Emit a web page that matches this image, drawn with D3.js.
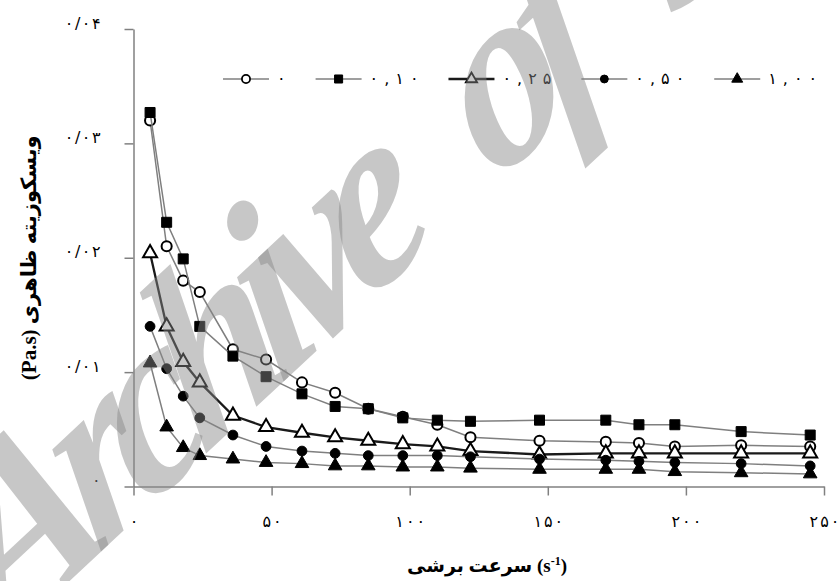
<!DOCTYPE html>
<html lang="fa">
<head>
<meta charset="utf-8">
<script src="https://d3js.org/d3.v7.min.js"></script>
<style>
  body { margin: 0; background: #fff; }
  svg { display: block; }
</style>
</head>
<body>
<script>
// shear rate (1/s) and apparent viscosity (Pa.s) for each concentration
const shearRate = [6, 12, 18, 24, 36, 48, 61, 73, 85, 97.5, 110, 122, 147, 171, 183, 196, 220, 245];
const seriesNames = ["۰", "۰,۱۰", "۰,۲۵", "۰,۵۰", "۱,۰۰"];
const visc0   = [0.0320, 0.0210, 0.0180, 0.0170, 0.0120, 0.0111, 0.0091, 0.0082, 0.0068, 0.0061, 0.0054, 0.0043, 0.0040, 0.0039, 0.0038, 0.0035, 0.0036, 0.0035];
const visc010 = [0.0327, 0.0231, 0.0199, 0.0140, 0.0114, 0.0096, 0.0081, 0.0070, 0.0068, 0.0060, 0.0058, 0.0057, 0.0058, 0.0058, 0.0054, 0.0054, 0.0048, 0.0045];
const visc025 = [0.0204, 0.0140, 0.0109, 0.0091, 0.0062, 0.0052, 0.0047, 0.0043, 0.0040, 0.0037, 0.0035, 0.0031, 0.0028, 0.0029, 0.0029, 0.0029, 0.0029, 0.0029];
const visc050 = [0.0140, 0.0103, 0.0079, 0.0060, 0.0045, 0.0035, 0.0031, 0.0029, 0.0027, 0.0027, 0.0027, 0.0026, 0.0024, 0.0023, 0.0022, 0.0021, 0.0020, 0.0018];
const visc100 = [0.0108, 0.0052, 0.0034, 0.0027, 0.0024, 0.0021, 0.0020, 0.0018, 0.0018, 0.0017, 0.0017, 0.0016, 0.0015, 0.0015, 0.0015, 0.0013, 0.0012, 0.0011];

const xTicks = [0, 50, 100, 150, 200, 250];
const xTickLabels = ["۰", "۵۰", "۱۰۰", "۱۵۰", "۲۰۰", "۲۵۰"];
const yTicks = [0, 0.01, 0.02, 0.03, 0.04];
const yTickLabels = ["۰", "۰/۰۱", "۰/۰۲", "۰/۰۳", "۰/۰۴"];

const width = 838, height = 581;
const faFont = "DejaVu Sans, sans-serif";

const svg = d3.select("body").append("svg")
  .attr("width", width)
  .attr("height", height);

const x = d3.scaleLinear().domain([0, 250]).range([133.5, 824]);
const y = d3.scaleLinear().domain([0, 0.04]).range([486.5, 29]);

// letter-spacing is ignored for Persian digits, so space them by hand
function spaced(text, str, gap) {
  [...str].forEach((ch, i) => text.append("tspan").attr("dx", i ? gap : 0).text(ch));
}

// axes
const xAxis = svg.append("g")
  .attr("transform", `translate(0,${y(0)})`)
  .call(d3.axisBottom(x).tickValues(xTicks).tickSize(9).tickSizeOuter(0).tickPadding(20)
    .tickFormat(""));
const yAxis = svg.append("g")
  .attr("transform", `translate(${x(0)},0)`)
  .call(d3.axisLeft(y).tickValues(yTicks).tickSize(9).tickSizeOuter(0).tickPadding(24)
    .tickFormat(""));

[xAxis, yAxis].forEach(a => {
  a.selectAll("path, line").attr("stroke", "#808080").attr("stroke-width", 1.5);
  a.selectAll("text").attr("fill", "#000").style("font-family", faFont).style("font-size", "16px");
});
xAxis.selectAll(".tick text").each(function(d, i) { spaced(d3.select(this), xTickLabels[i], 2); });
yAxis.selectAll(".tick text").each(function(d, i) { spaced(d3.select(this), yTickLabels[i], 1.5); })
  .attr("dy", "-0.05em");

// series
const series = [
  {name: seriesNames[0], values: visc0,   symbol: d3.symbolCircle,   filled: false, size: 80,  line: "#7f7f7f", lw: 1.5},
  {name: seriesNames[1], values: visc010, symbol: d3.symbolSquare,   filled: true,  size: 100, line: "#7f7f7f", lw: 1.5},
  {name: seriesNames[2], values: visc025, symbol: d3.symbolTriangle, filled: false, size: 85,  line: "#1a1a1a", lw: 2.3},
  {name: seriesNames[3], values: visc050, symbol: d3.symbolCircle,   filled: true,  size: 75,  line: "#7f7f7f", lw: 1.5},
  {name: seriesNames[4], values: visc100, symbol: d3.symbolTriangle, filled: true,  size: 80,  line: "#7f7f7f", lw: 1.5}
];

const line = d3.line().x(d => x(d[0])).y(d => y(d[1]));

series.forEach(s => {
  const pts = shearRate.map((r, i) => [r, s.values[i]]);
  const g = svg.append("g");
  g.append("path")
    .attr("d", line(pts))
    .attr("fill", "none")
    .attr("stroke", s.line)
    .attr("stroke-width", s.lw);
  g.selectAll("path.m").data(pts).join("path")
    .attr("class", "m")
    .attr("transform", d => `translate(${x(d[0])},${y(d[1])})`)
    .attr("d", d3.symbol().type(s.symbol).size(s.size))
    .attr("fill", s.filled ? "#000" : "#fff")
    .attr("stroke", "#000")
    .attr("stroke-width", s.filled ? 1 : 2);
});

// legend
const legend = svg.append("g").attr("transform", "translate(0,79)");
let lx = 223;
series.forEach(s => {
  const g = legend.append("g").attr("transform", `translate(${lx},0)`);
  g.append("line").attr("x1", 0).attr("x2", 46)
    .attr("stroke", s.line).attr("stroke-width", s.lw);
  g.append("path")
    .attr("transform", "translate(23,0)")
    .attr("d", d3.symbol().type(s.symbol).size(s.size * 0.65))
    .attr("fill", s.filled ? "#000" : "#fff")
    .attr("stroke", "#000")
    .attr("stroke-width", s.filled ? 1 : 1.8);
  const t = g.append("text")
    .attr("x", 54).attr("dy", "0.3em")
    .style("font-family", faFont).style("font-size", "16px");
  spaced(t, s.name, 6);
  lx += 54 + t.node().getBBox().width + 30;
});

// axis titles
svg.append("text")
  .attr("transform", `translate(36,${(y(0) + y(0.04)) / 2}) rotate(-90)`)
  .attr("text-anchor", "middle")
  .style("font-family", "Liberation Serif, DejaVu Sans, serif")
  .style("font-weight", "bold")
  .style("font-size", "21px")
  .text("(Pa.s) ویسکوزیته ظاهری");

const xt = svg.append("text")
  .attr("x", 487).attr("y", 572)
  .attr("text-anchor", "middle")
  .style("font-family", "Liberation Serif, DejaVu Sans, serif")
  .style("font-weight", "bold")
  .style("font-size", "19px");
xt.append("tspan").text("سرعت برشی (s");
xt.append("tspan").attr("dy", -7).style("font-size", "12px").text("-1");
xt.append("tspan").attr("dy", 7).text(")");

// watermark
svg.append("text")
  .attr("transform", "translate(2,644) rotate(-43) skewX(-15)")
  .style("font-family", "Liberation Serif, serif")
  .style("font-weight", "bold")
  .style("font-style", "italic")
  .style("font-size", "235px")
  .style("letter-spacing", "-26px")
  .style("word-spacing", "65px")
  .attr("fill", "#898989")
  .attr("fill-opacity", 0.47)
  .text("Archive of SID");
</script>
</body>
</html>
